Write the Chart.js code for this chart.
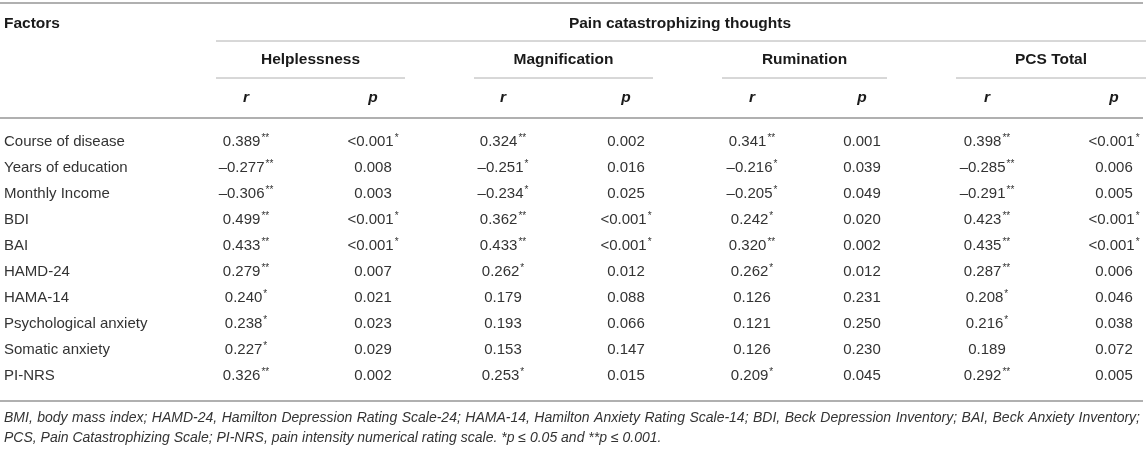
<!DOCTYPE html>
<html>
<head>
<meta charset="utf-8">
<script src="https://cdn.jsdelivr.net/npm/chart.js@4.4.1/dist/chart.umd.min.js"></script>
<style>
  html, body { margin: 0; padding: 0; background: #fff; }
  canvas { display: block; }
</style>
</head>
<body>
<canvas id="tableau" width="1146" height="449"></canvas>
<script>
// les données du tableau
const factors = ['Course of disease', 'Years of education', 'Monthly Income', 'BDI', 'BAI',
  'HAMD-24', 'HAMA-14', 'Psychological anxiety', 'Somatic anxiety', 'PI-NRS'];
const groups = ['Helplessness', 'Magnification', 'Rumination', 'PCS Total'];
const helplessR = ['0.389**', '–0.277**', '–0.306**', '0.499**', '0.433**', '0.279**', '0.240*', '0.238*', '0.227*', '0.326**'];
const helplessP = ['<0.001*', '0.008', '0.003', '<0.001*', '<0.001*', '0.007', '0.021', '0.023', '0.029', '0.002'];
const magnifR = ['0.324**', '–0.251*', '–0.234*', '0.362**', '0.433**', '0.262*', '0.179', '0.193', '0.153', '0.253*'];
const magnifP = ['0.002', '0.016', '0.025', '<0.001*', '<0.001*', '0.012', '0.088', '0.066', '0.147', '0.015'];
const rumR = ['0.341**', '–0.216*', '–0.205*', '0.242*', '0.320**', '0.262*', '0.126', '0.121', '0.126', '0.209*'];
const rumP = ['0.001', '0.039', '0.049', '0.020', '0.002', '0.012', '0.231', '0.250', '0.230', '0.045'];
const pcsR = ['0.398**', '–0.285**', '–0.291**', '0.423**', '0.435**', '0.287**', '0.208*', '0.216*', '0.189', '0.292**'];
const pcsP = ['<0.001*', '0.006', '0.005', '<0.001*', '<0.001*', '0.006', '0.046', '0.038', '0.072', '0.005'];

const title = 'Pain catastrophizing thoughts';
const footLine1 = 'BMI, body mass index; HAMD-24, Hamilton Depression Rating Scale-24; HAMA-14, Hamilton Anxiety Rating Scale-14; BDI, Beck Depression Inventory; BAI, Beck Anxiety Inventory;';
const footLine2 = 'PCS, Pain Catastrophizing Scale; PI-NRS, pain intensity numerical rating scale. *p ≤ 0.05 and **p ≤ 0.001.';

// mise en page (en pixels, passés par les échelles du graphique)
const W = 1146, H = 449;
const colX = [4, 246, 373, 503, 626, 752, 862, 987, 1114];
const groupSpan = [[216, 405], [474, 653], [722, 887], [956, 1146]];
const rowY = i => 142 + i * 26;
const FONT = '"Liberation Sans", Arial, sans-serif';
const columns = [factors, helplessR, helplessP, magnifR, magnifP, rumR, rumP, pcsR, pcsP];

// dessine un texte avec les astérisques en exposant
function drawCell(ctx, txt, x, y, align) {
  const m = txt.match(/^(.*?)(\**)$/);
  const main = m[1], stars = m[2];
  ctx.font = '15px ' + FONT;
  const w1 = ctx.measureText(main).width;
  ctx.font = '10px ' + FONT;
  const w2 = stars ? ctx.measureText(stars).width + 1 : 0;
  let x0 = align === 'left' ? x : x - (w1 + w2) / 2;
  ctx.textAlign = 'left';
  ctx.textBaseline = 'middle';
  ctx.font = '15px ' + FONT;
  ctx.fillText(main, x0, y);
  if (stars) {
    ctx.font = '10px ' + FONT;
    ctx.fillText(stars, x0 + w1 + 1, y - 4);
  }
}

const tablePlugin = {
  id: 'tablePlugin',
  afterDatasetsDraw(chart) {
    const ctx = chart.ctx;
    const sx = chart.scales.x, sy = chart.scales.y;
    const px = v => sx.getPixelForValue(v);
    const py = v => sy.getPixelForValue(v);
    ctx.save();

    // traits horizontaux
    const hline = (x1, x2, y, lw, col) => {
      ctx.strokeStyle = col;
      ctx.lineWidth = lw;
      ctx.beginPath();
      ctx.moveTo(px(x1), py(y));
      ctx.lineTo(px(x2), py(y));
      ctx.stroke();
    };
    hline(0, 1143, 3, 2, '#b0b0b0');
    hline(216, W, 41, 1, '#b0b0b0');
    groupSpan.forEach(s => hline(s[0], s[1], 78, 1, '#b0b0b0'));
    hline(0, 1143, 118, 2, '#b0b0b0');
    hline(0, 1143, 401, 2, '#b0b0b0');

    // en-têtes
    ctx.fillStyle = '#1a1a1a';
    ctx.textBaseline = 'middle';
    ctx.font = 'bold 15.5px ' + FONT;
    ctx.textAlign = 'left';
    ctx.fillText('Factors', px(4), py(24));
    ctx.textAlign = 'center';
    ctx.fillText(title, px(680), py(24));
    groups.forEach((g, i) => ctx.fillText(g, px((groupSpan[i][0] + groupSpan[i][1]) / 2), py(60)));
    ctx.font = 'italic bold 15.5px ' + FONT;
    for (let c = 1; c < colX.length; c++) {
      ctx.fillText(c % 2 ? 'r' : 'p', px(colX[c]), py(98));
    }

    // cellules : positions des points de chaque dataset
    ctx.fillStyle = '#333';
    chart.data.datasets.forEach((ds, di) => {
      const meta = chart.getDatasetMeta(di);
      meta.data.forEach((pt, j) => drawCell(ctx, ds.cells[j], pt.x, pt.y, di === 0 ? 'left' : 'center'));
    });

    // note de bas de tableau (première ligne justifiée)
    ctx.textAlign = 'left';
    let fs = 14;
    ctx.font = 'italic ' + fs + 'px ' + FONT;
    while (ctx.measureText(footLine1).width > 1134 && fs > 10) {
      fs -= 0.25;
      ctx.font = 'italic ' + fs + 'px ' + FONT;
    }
    const words = footLine1.split(' ');
    const total = words.reduce((a, w) => a + ctx.measureText(w).width, 0);
    const gap = (px(1140) - px(4) - total) / (words.length - 1);
    let xx = px(4);
    words.forEach(w => { ctx.fillText(w, xx, py(418)); xx += ctx.measureText(w).width + gap; });
    ctx.fillText(footLine2, px(4), py(438));
    ctx.restore();
  }
};

const config = {
  type: 'scatter',
  data: {
    datasets: columns.map((col, ci) => ({
      label: ci === 0 ? 'Factors' : 'col' + ci,
      cells: col,
      data: col.map((v, ri) => ({ x: colX[ci], y: rowY(ri) })),
      pointRadius: 0
    }))
  },
  options: {
    responsive: false,
    animation: false,
    layout: { padding: 0 },
    plugins: { legend: { display: false }, tooltip: { enabled: false } },
    scales: {
      x: { type: 'linear', min: 0, max: W, display: false },
      y: { type: 'linear', min: 0, max: H, reverse: true, display: false }
    }
  },
  plugins: [tablePlugin]
};

const monTableau = new Chart(document.getElementById('tableau'), config);
</script>
</body>
</html>
